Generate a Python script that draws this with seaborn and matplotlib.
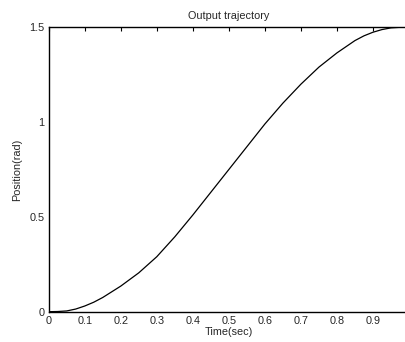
import numpy as np
import pandas as pd
import matplotlib
matplotlib.use("Agg")
import matplotlib.pyplot as plt
import seaborn as sns

# values
time_sec = [0.0, 0.025, 0.05, 0.075, 0.1, 0.125, 0.15, 0.2, 0.25, 0.3, 0.35, 0.4, 0.45, 0.5,
            0.55, 0.6, 0.65, 0.7, 0.75, 0.8, 0.85, 0.875, 0.9, 0.925, 0.95, 0.975, 0.99]
position_rad = [0.0, 0.001, 0.004, 0.014, 0.03, 0.05, 0.075, 0.135, 0.205, 0.29, 0.395, 0.51,
                0.63, 0.75, 0.87, 0.99, 1.1, 1.2, 1.29, 1.365, 1.43, 1.455, 1.474, 1.488,
                1.497, 1.5, 1.5]
x_ticks = [0, 0.1, 0.2, 0.3, 0.4, 0.5, 0.6, 0.7, 0.8, 0.9]
x_tick_labels = ["0", "0.1", "0.2", "0.3", "0.4", "0.5", "0.6", "0.7", "0.8", "0.9"]
y_ticks = [0, 0.5, 1, 1.5]
y_tick_labels = ["0", "0.5", "1", "1.5"]

df = pd.DataFrame({"t": time_sec, "pos": position_rad})

sns.set_style("white")
plt.rcParams["font.family"] = ["Liberation Sans", "DejaVu Sans"]
plt.rcParams["xtick.direction"] = "in"
plt.rcParams["ytick.direction"] = "in"

fig = plt.figure(figsize=(4.06, 3.42), dpi=100)
# axes runs a little past the right edge, like the cropped original
ax = fig.add_axes([48.7 / 406, 30.3 / 342, (409 - 48.7) / 406, (311.7 - 27.3) / 342])

sns.lineplot(data=df, x="t", y="pos", ax=ax, color="black", linewidth=0.9)

ax.set_xlim(0, 1)
ax.set_ylim(0, 1.5)
ax.set_xticks(x_ticks)
ax.set_xticklabels(x_tick_labels)
ax.set_yticks(y_ticks)
ax.set_yticklabels(y_tick_labels)
ax.tick_params(axis="both", labelsize=7.8, length=3, width=0.8, color="black",
               top=True, right=True)
ax.tick_params(axis="x", pad=3)
ax.tick_params(axis="y", pad=3)
for s in ax.spines.values():
    s.set_color("black")
    s.set_linewidth(1.0)

ax.set_title("Output trajectory", fontsize=7.8, pad=6)
ax.set_xlabel("Time(sec)", fontsize=7.8, labelpad=1)
ax.set_ylabel("Position(rad)", fontsize=7.8, labelpad=5)

fig.savefig("out.png", dpi=100)
